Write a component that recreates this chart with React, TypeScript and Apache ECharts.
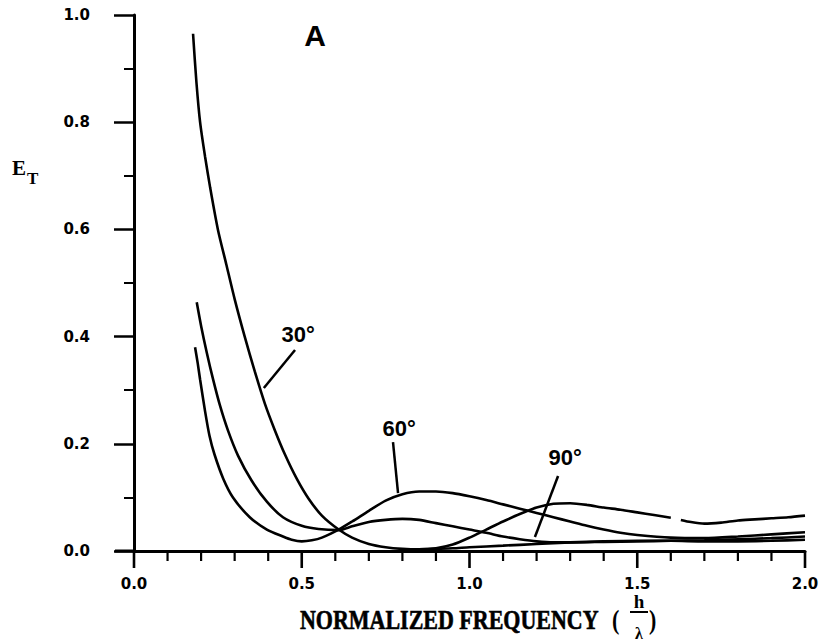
import React, { useEffect, useRef } from "react";
import * as echarts from "echarts";

// ---- Data ----
const xTicks = [0, 0.5, 1.0, 1.5, 2.0];
const xMinorPerMajor = 5;
const yTicks = [0, 0.2, 0.4, 0.6, 0.8, 1.0];

const x30 = [0.176, 0.186, 0.197, 0.212, 0.227, 0.25, 0.275, 0.3, 0.33, 0.36, 0.39, 0.42, 0.45, 0.485, 0.52, 0.56, 0.61, 0.65, 0.7, 0.75, 0.8, 0.85, 0.9, 0.95, 1.0, 1.05, 1.1, 1.15, 1.2, 1.25, 1.3, 1.35, 1.4, 1.45, 1.5, 1.55, 1.6, 1.615, 1.63, 1.66, 1.7, 1.75, 1.8, 1.85, 1.9, 1.95, 2.0];
const y30 = [0.965, 0.875, 0.8, 0.735, 0.678, 0.6, 0.535, 0.47, 0.4, 0.335, 0.275, 0.225, 0.18, 0.135, 0.098, 0.066, 0.04, 0.025, 0.013, 0.007, 0.004, 0.003, 0.005, 0.012, 0.025, 0.04, 0.055, 0.069, 0.081, 0.088, 0.089, 0.086, 0.081, 0.077, 0.072, 0.067, 0.062, null, 0.058, 0.054, 0.051, 0.053, 0.057, 0.059, 0.061, 0.063, 0.066];

const x60 = [0.182, 0.19, 0.197, 0.212, 0.225, 0.24, 0.266, 0.295, 0.345, 0.396, 0.444, 0.47, 0.5, 0.53, 0.56, 0.61, 0.65, 0.7, 0.75, 0.8, 0.85, 0.9, 0.95, 1.0, 1.05, 1.1, 1.15, 1.2, 1.25, 1.3, 1.35, 1.4, 1.45, 1.5, 1.6, 1.7, 1.8, 1.9, 2.0];
const y60 = [0.38, 0.35, 0.32, 0.26, 0.215, 0.18, 0.135, 0.1, 0.063, 0.04, 0.027, 0.021, 0.018, 0.02, 0.025, 0.04, 0.055, 0.075, 0.094, 0.106, 0.111, 0.111, 0.108, 0.102, 0.095, 0.087, 0.079, 0.071, 0.063, 0.055, 0.047, 0.04, 0.034, 0.03, 0.025, 0.024, 0.027, 0.031, 0.035];

const x90 = [0.187, 0.2, 0.217, 0.235, 0.256, 0.28, 0.31, 0.35, 0.396, 0.444, 0.5, 0.55, 0.61, 0.65, 0.7, 0.75, 0.8, 0.85, 0.9, 0.95, 1.0, 1.05, 1.1, 1.15, 1.2, 1.25, 1.3, 1.4, 1.5, 1.6, 1.7, 1.8, 1.9, 2.0];
const y90 = [0.464, 0.42, 0.37, 0.322, 0.272, 0.225, 0.178, 0.132, 0.092, 0.063, 0.047, 0.041, 0.039, 0.046, 0.054, 0.058, 0.06, 0.058, 0.052, 0.046, 0.04, 0.034, 0.027, 0.022, 0.018, 0.016, 0.016, 0.017, 0.018, 0.019, 0.02, 0.022, 0.024, 0.027];

const xLow = [0.8, 0.85, 0.9, 0.95, 1.0, 1.1, 1.2, 1.3, 1.4, 1.5, 1.6, 1.7, 1.8, 1.9, 2.0];
const yLow = [0.002, 0.003, 0.004, 0.005, 0.007, 0.01, 0.013, 0.016, 0.018, 0.019, 0.019, 0.018, 0.018, 0.019, 0.021];

const curveLabels = ["30°", "60°", "90°"];
// annotation anchors in data coordinates: label centre, leader start, leader end
const annotations = [
  { text: curveLabels[0], at: [0.489, 0.403], from: [0.48, 0.375], to: [0.387, 0.304] },
  { text: curveLabels[1], at: [0.79, 0.229], from: [0.772, 0.203], to: [0.787, 0.108] },
  { text: curveLabels[2], at: [1.285, 0.174], from: [1.264, 0.14], to: [1.195, 0.026] },
];
const panelLetter = "A";
const panelAt = [0.54, 0.961];
const xTitle = "NORMALIZED FREQUENCY";

const pairs = (xs: number[], ys: (number | null)[]) =>
  xs.map((x, i) => [x, ys[i] === null ? "-" : ys[i]]);

const BLACK = "#000";
const SERIF = "'Liberation Serif', 'DejaVu Serif', serif";
const SANS = "'Liberation Sans', Arial, sans-serif";
const TICKFONT = "'DejaVu Sans', sans-serif";

export default function App() {
  const ref = useRef<HTMLDivElement>(null);

  useEffect(() => {
    if (!ref.current) return;
    const chart = echarts.init(ref.current, null, { renderer: "svg" });
    const lineSeries = (name: string, data: any[]) => ({
      name,
      type: "line",
      data,
      smooth: 0.25,
      showSymbol: false,
      connectNulls: false,
      lineStyle: { color: BLACK, width: 2.6 },
      itemStyle: { color: BLACK },
      z: 3,
    });
    chart.setOption({
      animation: false,
      grid: { left: 134, top: 15, width: 671, height: 536 },
      xAxis: {
        type: "value",
        min: xTicks[0],
        max: xTicks[xTicks.length - 1],
        interval: 0.5,
        axisLine: { show: true, onZero: false, lineStyle: { color: BLACK, width: 3 } },
        axisTick: { show: false },
        minorTick: { show: false },
        splitLine: { show: false },
        minorSplitLine: { show: false },
        axisLabel: {
          formatter: (v: number) => v.toFixed(1),
          fontFamily: TICKFONT,
          fontWeight: "bold",
          fontSize: 15,
          color: BLACK,
          margin: 25,
        },
      },
      yAxis: {
        type: "value",
        min: yTicks[0],
        max: yTicks[yTicks.length - 1],
        interval: 0.2,
        axisLine: { show: true, onZero: false, lineStyle: { color: BLACK, width: 3 } },
        axisTick: { show: true, inside: false, length: 20, lineStyle: { color: BLACK, width: 2.5 } },
        minorTick: { show: true, splitNumber: 2, length: 10, lineStyle: { color: BLACK, width: 2 } },
        splitLine: { show: false },
        minorSplitLine: { show: false },
        axisLabel: {
          formatter: (v: number) => v.toFixed(1),
          fontFamily: TICKFONT,
          fontWeight: "bold",
          fontSize: 15,
          color: BLACK,
          margin: 44,
          padding: [8, 0, 0, 0],
        },
      },
      series: [
        lineSeries(curveLabels[0], pairs(x30, y30)),
        lineSeries(curveLabels[1], pairs(x60, y60)),
        lineSeries(curveLabels[2], pairs(x90, y90)),
        lineSeries("low", pairs(xLow, yLow)),
      ],
    });

    const P = (v: number[]) => chart.convertToPixel({ gridIndex: 0 }, v) as number[];
    const origin = P([0, 0]);
    const graphics: any[] = [];
    // x axis line extends a little left of the y axis
    graphics.push({
      type: "line",
      z: 100,
      shape: { x1: origin[0] - 19, y1: origin[1], x2: origin[0], y2: origin[1] },
      style: { stroke: BLACK, lineWidth: 3 },
    });
    // x axis ticks (major + minor), hanging below the axis, drawn as thin rects
    const step = (xTicks[1] - xTicks[0]) / xMinorPerMajor;
    const nTicks = Math.round((xTicks[xTicks.length - 1] - xTicks[0]) / step);
    for (let i = 0; i <= nTicks; i++) {
      const v = xTicks[0] + i * step;
      const p = P([v, 0]);
      const major = i % xMinorPerMajor === 0;
      const w = major ? 2.6 : 2.2;
      graphics.push({
        type: "rect",
        z: 100,
        zlevel: 1,
        shape: { x: p[0] - w / 2, y: p[1], width: w, height: major ? 17 : 10 },
        style: { fill: BLACK },
      });
    }
    annotations.forEach((a) => {
      const c = P(a.at);
      const f = P(a.from);
      const t = P(a.to);
      graphics.push({
        type: "text",
        z: 100,
        x: c[0],
        y: c[1],
        style: {
          text: a.text,
          fill: BLACK,
          font: `bold 22px ${SANS}`,
          align: "center",
          verticalAlign: "middle",
        },
      });
      graphics.push({
        type: "line",
        z: 100,
        shape: { x1: f[0], y1: f[1], x2: t[0], y2: t[1] },
        style: { stroke: BLACK, lineWidth: 2.5 },
      });
    });
    const pa = P(panelAt);
    graphics.push({
      type: "text",
      z: 100,
      x: pa[0],
      y: pa[1],
      style: {
        text: panelLetter,
        fill: BLACK,
        font: `bold 30px ${SANS}`,
        align: "center",
        verticalAlign: "middle",
      },
    });
    // y axis name E_T
    graphics.push({
      type: "text",
      z: 100,
      x: 12,
      y: 168,
      style: { text: "E", fill: BLACK, font: `bold 21px ${SERIF}`, align: "left", verticalAlign: "middle" },
    });
    graphics.push({
      type: "text",
      z: 100,
      x: 27,
      y: 178,
      style: { text: "T", fill: BLACK, font: `bold 17px ${SERIF}`, align: "left", verticalAlign: "middle" },
    });
    // x axis name with fraction h / λ
    graphics.push({
      type: "text",
      z: 100,
      x: 300,
      y: 620,
      scaleY: 1.22,
      style: {
        text: xTitle,
        fill: BLACK,
        stroke: BLACK,
        lineWidth: 0.5,
        font: `bold 22px ${SERIF}`,
        align: "left",
        verticalAlign: "middle",
      },
    });
    graphics.push({
      type: "text",
      z: 100,
      x: 612,
      y: 620,
      scaleY: 1.2,
      style: { text: "(", fill: BLACK, font: `bold 22px ${SERIF}`, align: "left", verticalAlign: "middle" },
    });
    graphics.push({
      type: "text",
      z: 100,
      x: 639,
      y: 601,
      style: { text: "h", fill: BLACK, font: `bold 19px ${SERIF}`, align: "center", verticalAlign: "middle" },
    });
    graphics.push({
      type: "line",
      z: 100,
      shape: { x1: 630, y1: 612, x2: 648, y2: 612 },
      style: { stroke: BLACK, lineWidth: 2 },
    });
    graphics.push({
      type: "text",
      z: 100,
      x: 639,
      y: 625,
      style: { text: "λ", fill: BLACK, font: `bold 16px ${SERIF}`, align: "center", verticalAlign: "top" },
    });
    graphics.push({
      type: "text",
      z: 100,
      x: 649,
      y: 620,
      scaleY: 1.2,
      style: { text: ")", fill: BLACK, font: `bold 22px ${SERIF}`, align: "left", verticalAlign: "middle" },
    });
    chart.setOption({ graphic: graphics });

    return () => chart.dispose();
  }, []);

  return (
    <div
      ref={ref}
      style={{ position: "absolute", left: 0, top: 0, width: 831, height: 643, background: "#fff" }}
    />
  );
}
